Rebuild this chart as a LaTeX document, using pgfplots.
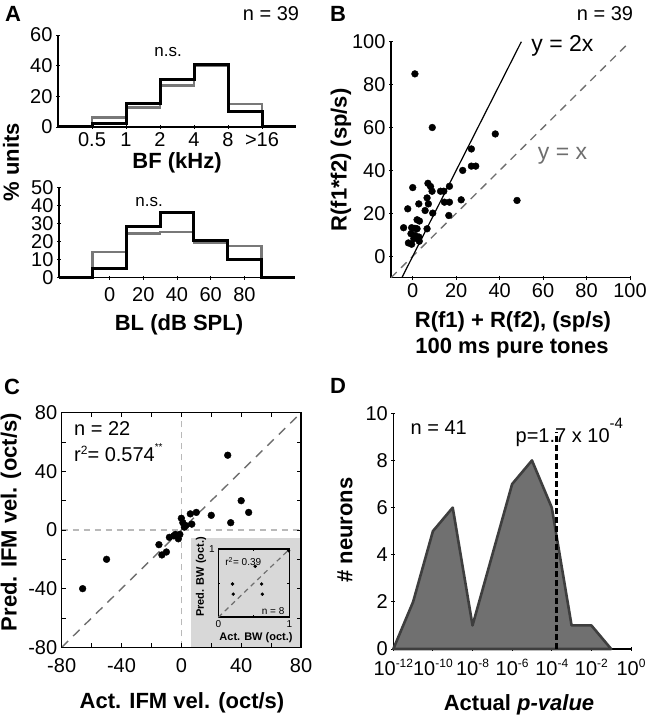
\documentclass[border=0pt]{standalone}
\usepackage{pgfplots}
\pgfplotsset{compat=1.18}
\usepackage{fontspec}
\setmainfont{Liberation Sans}

\definecolor{histgray}{RGB}{120,120,120}
\definecolor{diaggray}{RGB}{110,110,110}
\definecolor{zerogray}{RGB}{185,185,185}
\definecolor{insetbg}{RGB}{216,216,216}
\definecolor{areafill}{RGB}{112,112,112}
\definecolor{areaedge}{RGB}{62,62,62}

\newcommand{\tk}{\fontsize{20}{22}\selectfont}
\newcommand{\lb}{\fontsize{22}{24}\selectfont\bfseries}
\newcommand{\sm}{\fontsize{10}{11}\selectfont}

\pgfplotsset{
  mstyle/.style={scale only axis, tick align=inside,
    major tick length=4pt, minor tick length=4pt,
    every tick/.style={black, line width=0.9pt},
    axis line style={line width=1.3pt},
    tick label style={font=\tk},
    /pgf/number format/assume math mode=true,
    clip=false},
  boxoff/.style={axis x line=bottom, axis y line=left,
    x axis line style={-}, y axis line style={-}},
}

\begin{document}
\begin{tikzpicture}
\path[use as bounding box] (0,0) rectangle (649pt,720pt);

% ---- A top: BF histogram
\begin{axis}[mstyle, boxoff, at={(58pt,593pt)}, anchor=south west,
  width=238pt, height=92pt, xmin=0, xmax=7, ymin=0, ymax=60,
  xtick={1,...,6}, xticklabels={0.5,1,2,4,8,>16}, ytick={0,20,40,60}]
\addplot[const plot, histgray, line width=2.6pt] coordinates {
  (0,0)(1,6.2)(2,12.7)(3,27)(4,40)(5,15)(6,0)(7,0)};
\addplot[const plot, black, line width=3pt] coordinates {
  (0,0)(1,2.6)(2,15.4)(3,30.8)(4,41)(5,10.3)(6,0)(7,0)};
\node[font=\fontsize{17}{18}\selectfont] at (axis cs:3.24,49) {n.s.};
\end{axis}

% ---- A bottom: BL histogram
\begin{axis}[mstyle, boxoff, at={(59pt,442.3pt)}, anchor=south west,
  width=236pt, height=90.4pt, xmin=-30, xmax=110, ymin=0, ymax=50,
  xtick={0,20,40,60,80}, ytick={0,10,20,30,40,50},
  xticklabel style={yshift=-4pt}]
\addplot[const plot, histgray, line width=2.6pt] coordinates {
  (-30,0)(-10,14.3)(10,24.6)(30,25.2)(50,19.4)(70,17.6)(90,0)(110,0)};
\addplot[const plot, black, line width=3pt] coordinates {
  (-30,0)(-10,5.1)(10,28.2)(30,35.9)(50,20.5)(70,10.3)(90,0)(110,0)};
\node[font=\fontsize{17}{18}\selectfont] at (axis cs:23.5,42) {n.s.};
\end{axis}

% ---- B: scatter
\begin{axis}[mstyle, boxoff, at={(391pt,442.3pt)}, anchor=south west,
  width=239pt, height=236pt, xmin=-10, xmax=100, ymin=-10, ymax=100,
  xtick={0,20,...,100}, ytick={0,20,...,100}]
\addplot[diaggray, line width=1.3pt, dash pattern=on 8pt off 6pt] coordinates {(-10,-10)(100,100)};
\addplot[black, line width=1.2pt] coordinates {(-5,-10)(50,100)};
\addplot[only marks, mark=*, mark size=3.4pt, black] coordinates {
  (9,60)(27,50)(38,57)(23,40)(27,42)(29,42)(0,32)(7,34)(8.2,32.5)(8.9,30.3)
  (12.8,30.3)(14.3,30.3)(16.9,32.6)(6.6,27.2)(7.2,24.4)(14.6,25.2)(16.9,25.2)
  (22.3,26.3)(-2.3,22.1)(2.8,24.4)(5.7,21.3)(9.2,20.1)(16.6,19)(2,17)(3.1,16.4)
  (-4.2,13.3)(-0.5,13.3)(2,12.8)(6.6,12.8)(-0.8,10.5)(1.1,9.7)(2.8,9)(-2,6.2)
  (-0.5,5.6)(0.5,8.2)(1,85)(48,26)(1,13)(3,7)};
\node[anchor=west, font=\fontsize{23}{24}\selectfont] at (axis cs:53,98) {y = 2x};
\node[anchor=west, font=\fontsize{23}{24}\selectfont, text=diaggray] at (axis cs:56,47) {y = x};
\end{axis}

% ---- C: predicted vs actual
\begin{axis}[mstyle, axis on top, at={(61.7pt,72.7pt)}, anchor=south west,
  width=239.3pt, height=234.6pt, xmin=-80, xmax=80, ymin=-80, ymax=80,
  xtick={-80,-40,0,40,80}, ytick={-80,-40,0,40,80},
  minor xtick={-60,-20,20,60}, minor ytick={-60,-20,20,60},
  xticklabel style={yshift=-8pt}, yticklabel style={xshift=-1pt}]
\addplot[draw=none, fill=insetbg] coordinates {(6.5,-80)(80,-80)(80,-5.5)(6.5,-5.5)} -- cycle;
\addplot[zerogray, line width=1.2pt, dash pattern=on 6pt off 5pt] coordinates {(0,-80)(0,80)};
\addplot[zerogray, line width=1.2pt, dash pattern=on 6pt off 5pt] coordinates {(-80,0)(80,0)};
\addplot[diaggray, line width=1.4pt, dash pattern=on 9pt off 7pt] coordinates {(-80,-80)(80,80)};
\addplot[only marks, mark=*, mark size=3.4pt, black] coordinates {
  (31,51)(40,20)(45,12)(33,5)(20,10)(10,12)(6,11)(0,8)(7,4)(3,3)(1,5)(2,2)
  (-1,-3)(-4,-3)(-5,-4)(-2,-6)(-8,-5)(-15,-10)(-13,-17)(-10,-15)(-50,-20)(-66,-40)};
\node[anchor=west, font=\tk] at (axis cs:-74,69) {n = 22};
\node[anchor=west, font=\tk] at (axis cs:-74,53) {r\raisebox{7pt}{\fontsize{12}{12}\selectfont 2}= 0.574\raisebox{11pt}{\fontsize{10}{10}\selectfont **}};
\end{axis}

% ---- C inset
\begin{axis}[mstyle, at={(218.3pt,102.7pt)}, anchor=south west,
  width=71pt, height=68pt, xmin=0, xmax=1, ymin=0, ymax=1,
  axis line style={line width=1.6pt},
  major tick length=2pt, minor tick length=2pt,
  tick label style={font=\sm},
  xtick={0,1}, ytick={1}, minor xtick={0.5}, minor ytick={0.5}]
\addplot[diaggray, line width=1.2pt, dash pattern=on 5pt off 4pt] coordinates {(0,0)(1,1)};
\addplot[only marks, mark=*, mark size=1.5pt, black] coordinates {
  (0.52,0.75)(0.2,0.49)(0.21,0.34)(0.61,0.49)(0.62,0.34)(0.99,0.98)};
\node[anchor=west, font=\sm] at (axis cs:0.05,0.82) {r\textsuperscript{2}= 0.39};
\node[anchor=east, font=\sm] at (axis cs:0.98,0.09) {n = 8};
\end{axis}

% ---- D: p-value distribution
\begin{axis}[mstyle, boxoff, xmode=log, at={(393.3pt,71pt)}, anchor=south west,
  width=237.7pt, height=235.7pt, xmin=1e-12, xmax=1, ymin=0, ymax=10,
  xtick={1e-12,1e-10,1e-8,1e-6,1e-4,1e-2,1},
  xticklabel style={yshift=-5pt},
  xticklabels={10\raisebox{8pt}{\fontsize{12}{12}\selectfont-12},
    10\raisebox{8pt}{\fontsize{12}{12}\selectfont-10},
    10\raisebox{8pt}{\fontsize{12}{12}\selectfont-8},
    10\raisebox{8pt}{\fontsize{12}{12}\selectfont-6},
    10\raisebox{8pt}{\fontsize{12}{12}\selectfont-4},
    10\raisebox{8pt}{\fontsize{12}{12}\selectfont-2},
    10\raisebox{8pt}{\fontsize{12}{12}\selectfont0}},
  ytick={0,2,4,6,8,10}]
\addplot[fill=areafill, draw=areaedge, line width=2.6pt, line join=round] coordinates {
  (1e-12,0)(1e-11,2)(1e-10,5)(1e-9,6)(1e-8,1)(1e-7,4)(1e-6,7)(1e-5,8)
  (1e-4,6)(1e-3,1)(1e-2,1)(1e-1,0)} \closedcycle;
\addplot[black, line width=3pt, dash pattern=on 6pt off 3pt] coordinates {(1.7e-4,0)(1.7e-4,9.2)};
\node[anchor=west, font=\tk] at (axis cs:5e-12,9.4) {n = 41};
\node[anchor=west, font=\tk] at (axis cs:1e-6,9.2) {p=1.7 x 10\raisebox{14pt}{\fontsize{15}{15}\selectfont -4}};
\end{axis}

% ---- labels
\node[font=\lb] at (13pt,706pt) {A};
\node[font=\tk] at (271pt,706pt) {n = 39};
\node[font=\lb] at (177pt,557pt) {BF (kHz)};
\node[font=\lb] at (179pt,395pt) {BL (dB SPL)};
\node[font=\lb, rotate=90] at (11pt,558pt) {\% units};

\node[font=\lb] at (338pt,706pt) {B};
\node[font=\tk] at (605pt,706pt) {n = 39};
\node[font=\lb, rotate=90] at (341pt,560pt) {R(f1*f2) (sp/s)};
\node[font=\lb] at (513pt,398pt) {R(f1) + R(f2), (sp/s)};
\node[font=\lb] at (512pt,372pt) {100 ms pure tones};

\node[font=\lb] at (12pt,333pt) {C};
\node[font=\lb, rotate=90] at (11pt,198pt) {Pred. IFM vel. (oct/s)};
\node[font=\lb] at (182pt,17pt) {Act. IFM vel. (oct/s)};
\node[font=\fontsize{11}{12}\selectfont\bfseries, rotate=90] at (201pt,143pt) {Pred. BW (oct.)};
\node[font=\fontsize{11}{12}\selectfont\bfseries] at (256pt,82pt) {Act. BW (oct.)};

\node[font=\lb] at (338pt,334pt) {D};
\node[font=\lb, rotate=90] at (345pt,190pt) {\# neurons};
\node[font=\lb] at (519pt,15pt) {Actual \textit{p-value}};
\end{tikzpicture}
\end{document}
